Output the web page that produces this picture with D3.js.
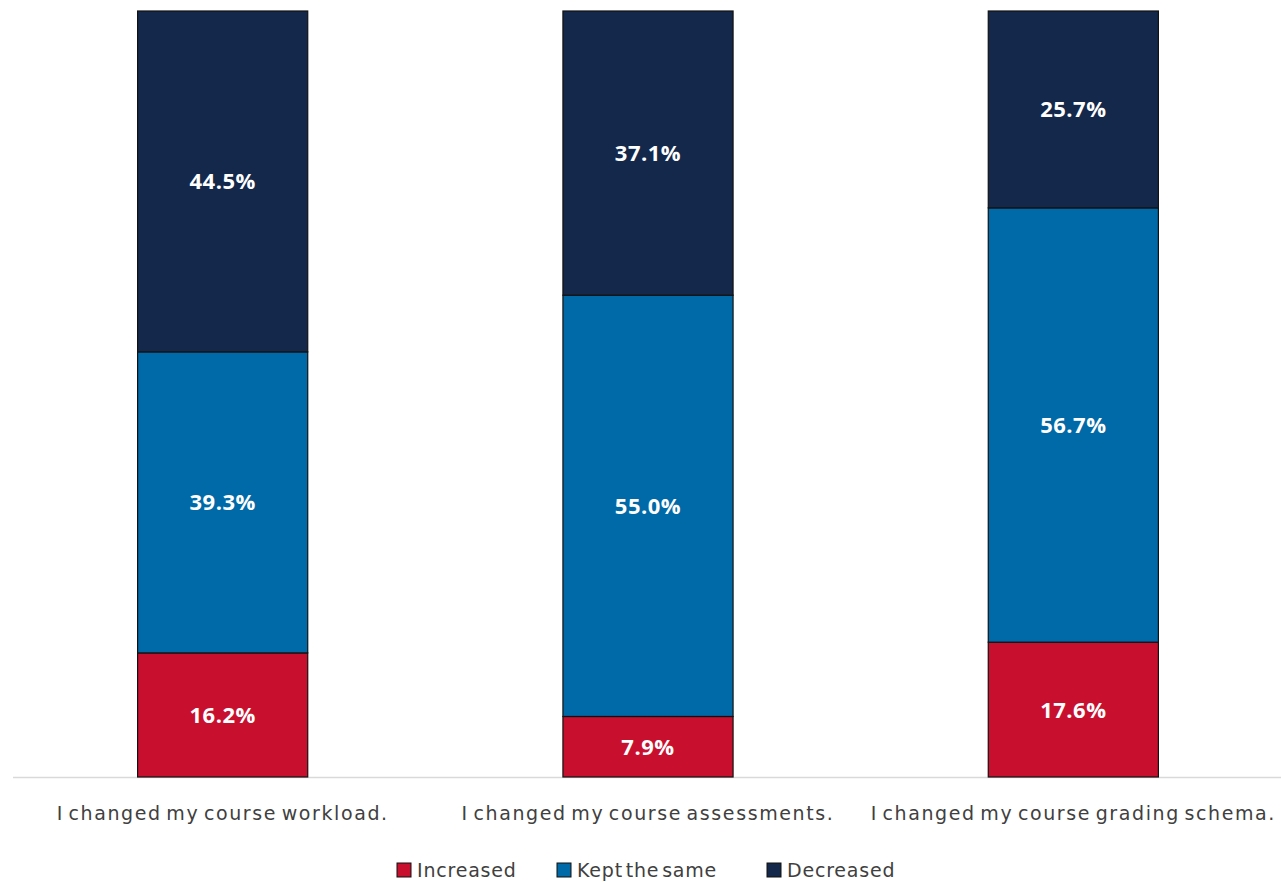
<!DOCTYPE html>
<html>
<head>
<meta charset="utf-8">
<script src="https://cdn.jsdelivr.net/npm/d3@7"></script>
<style>
  body { margin: 0; background: #fff; }
  svg { display: block; }
</style>
</head>
<body>
<script>
// categories and series values (percent)
var categories = ["I changed my course workload.", "I changed my course assessments.", "I changed my course grading schema."];
var seriesNames = ["Increased", "Kept the same", "Decreased"];
var increased = [16.2, 7.9, 17.6];
var keptSame = [39.3, 55.0, 56.7];
var decreased = [44.5, 37.1, 25.7];
var colors = ["#C8102E", "#0069A7", "#13284B"];

var width = 1281, height = 882;

var rows = categories.map(function(c, i) {
  return {cat: c, "Increased": increased[i], "Kept the same": keptSame[i], "Decreased": decreased[i]};
});
var stacked = d3.stack().keys(seriesNames)(rows);

var svg = d3.select("body").append("svg")
  .attr("width", width)
  .attr("height", height);

var xScale = d3.scaleBand()
  .domain(categories)
  .range([10, 1286])
  .paddingInner(0.6)
  .paddingOuter(0.3);

var yScale = d3.scaleLinear()
  .domain([0, 100])
  .range([777, 11]);

var color = d3.scaleOrdinal().domain(seriesNames).range(colors);

// axis line
svg.append("line")
  .attr("x1", 13).attr("x2", 1281)
  .attr("y1", 777.5).attr("y2", 777.5)
  .attr("stroke", "#d9d9d9")
  .attr("stroke-width", 1.5);

// bars
var groups = svg.selectAll("g.series")
  .data(stacked)
  .enter().append("g")
  .attr("class", "series")
  .attr("fill", function(d) { return color(d.key); });

groups.selectAll("rect")
  .data(function(d) { return d; })
  .enter().append("rect")
  .attr("x", function(d) { return xScale(d.data.cat); })
  .attr("y", function(d) { return yScale(d[1]); })
  .attr("width", xScale.bandwidth())
  .attr("height", function(d) { return yScale(d[0]) - yScale(d[1]); })
  .attr("stroke", "#111")
  .attr("stroke-width", 1.2);

// value labels
groups.selectAll("text")
  .data(function(d) { return d; })
  .enter().append("text")
  .attr("x", function(d) { return xScale(d.data.cat) + xScale.bandwidth() / 2; })
  .attr("y", function(d) { return (yScale(d[0]) + yScale(d[1])) / 2; })
  .attr("dy", "0.36em")
  .attr("text-anchor", "middle")
  .attr("fill", "#fff")
  .attr("font-family", "'Open Sans', sans-serif")
  .attr("font-weight", "bold")
  .attr("font-size", 22)
  .attr("letter-spacing", 0.5)
  .text(function(d) { return (d[1] - d[0]).toFixed(1) + "%"; });

// category labels
var xAxis = d3.axisBottom(xScale).tickSize(0).tickPadding(0);
var axisG = svg.append("g")
  .attr("transform", "translate(0,820)")
  .call(xAxis);
axisG.select(".domain").remove();
axisG.selectAll("text")
  .attr("dy", 0)
  .attr("fill", "#404040")
  .attr("font-family", "'DejaVu Sans', sans-serif")
  .attr("font-size", 19)
  .attr("letter-spacing", 1.6)
  .attr("word-spacing", -3);

// legend
var legendX = [397, 557, 767];
var legend = svg.selectAll("g.legend")
  .data(seriesNames)
  .enter().append("g")
  .attr("class", "legend")
  .attr("transform", function(d, i) { return "translate(" + legendX[i] + ",863)"; });

legend.append("rect")
  .attr("width", 14).attr("height", 14)
  .attr("fill", function(d) { return color(d); })
  .attr("stroke", "#111")
  .attr("stroke-width", 1);

legend.append("text")
  .attr("x", 20)
  .attr("y", 14)
  .attr("fill", "#404040")
  .attr("font-family", "'DejaVu Sans', sans-serif")
  .attr("font-size", 19)
  .attr("letter-spacing", 0.8)
  .attr("word-spacing", -4)
  .text(function(d) { return d; });
</script>
</body>
</html>
